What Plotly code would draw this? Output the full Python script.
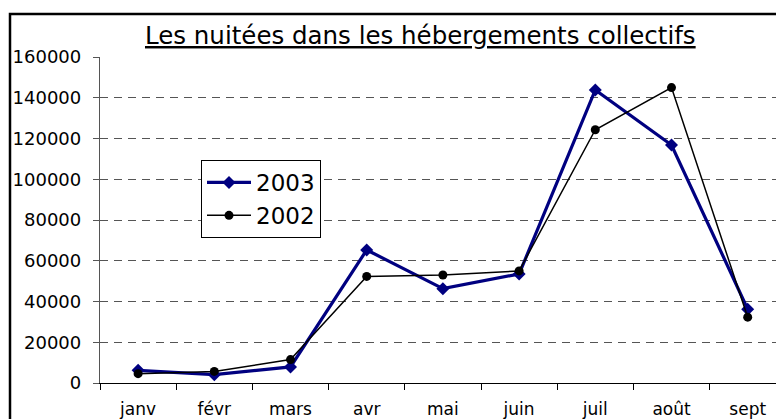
import plotly.graph_objects as go

months = ["janv", "févr", "mars", "avr", "mai", "juin", "juil", "août", "sept"]
nuitees_2003 = [6200, 4100, 7900, 65300, 46300, 53500, 143800, 116800, 36200]
nuitees_2002 = [4600, 5700, 11500, 52300, 53000, 55000, 124300, 145000, 32300]
y_ticks = [0, 20000, 40000, 60000, 80000, 100000, 120000, 140000, 160000]

pos = list(range(len(months)))
font_family = "DejaVu Sans"

fig = go.Figure()
fig.add_trace(go.Scatter(
    x=pos, y=nuitees_2003, name="2003", mode="lines+markers",
    line=dict(color="#000080", width=3.2),
    marker=dict(symbol="diamond", size=10, color="#000080"),
))
fig.add_trace(go.Scatter(
    x=pos, y=nuitees_2002, name="2002", mode="lines+markers",
    line=dict(color="#000000", width=1.5),
    marker=dict(symbol="circle", size=9, color="#000000"),
))

plot_l, plot_t, plot_b = 100, 57, 36
W, H = 776, 419
plot_w = W - plot_l
plot_h = H - plot_t - plot_b
cat_w = 76.2
x_right = -0.5 + plot_w / cat_w

fig.update_layout(
    width=W, height=H,
    margin=dict(l=plot_l, r=0, t=plot_t, b=plot_b),
    paper_bgcolor="white", plot_bgcolor="white",
    font=dict(family=font_family, color="black"),
    showlegend=True,
    legend=dict(
        x=(201 - plot_l) / plot_w, y=(H - plot_b - 160) / plot_h,
        xanchor="left", yanchor="top",
        bgcolor="white", bordercolor="black", borderwidth=1,
        font=dict(size=23, family=font_family),
        tracegroupgap=0, itemwidth=44,
    ),
    xaxis=dict(
        range=[-0.5, x_right],
        tickmode="array", tickvals=pos, ticktext=months,
        ticks="", showgrid=False, zeroline=False,
        showline=True, linecolor="black", linewidth=1,
        tickfont=dict(size=17, family=font_family),
        ticklabelstandoff=11,
        minor=dict(tickvals=[i - 0.5 for i in range(len(months) + 1)],
                   ticks="outside", ticklen=6, tickcolor="black",
                   showgrid=False),
        fixedrange=True,
    ),
    yaxis=dict(
        range=[0, 160000],
        tickmode="array", tickvals=y_ticks,
        ticktext=[str(v) for v in y_ticks],
        ticks="outside", ticklen=6, tickcolor="#555555",
        showline=True, linecolor="#555555", linewidth=1.3,
        showgrid=True, gridcolor="#555555", gridwidth=1, griddash="8px,6px",
        zeroline=False,
        tickfont=dict(size=18, family=font_family),
        ticklabelstandoff=8,
        fixedrange=True,
    ),
)

# outer chart frame
fig.add_shape(
    type="rect", xref="paper", yref="paper",
    x0=(10 - plot_l) / plot_w, x1=1.2,
    y0=-0.3, y1=1 + (plot_t - 14) / plot_h,
    line=dict(color="black", width=2.5), layer="below",
)

fig.add_annotation(
    text="<u>Les nuitées dans les hébergements collectifs</u>",
    xref="paper", yref="paper",
    x=(420 - plot_l) / plot_w, y=1 + (plot_t - 36) / plot_h,
    xanchor="center", yanchor="middle", showarrow=False,
    font=dict(size=24.5, family=font_family, color="black"),
)

fig.write_html("out.html")
